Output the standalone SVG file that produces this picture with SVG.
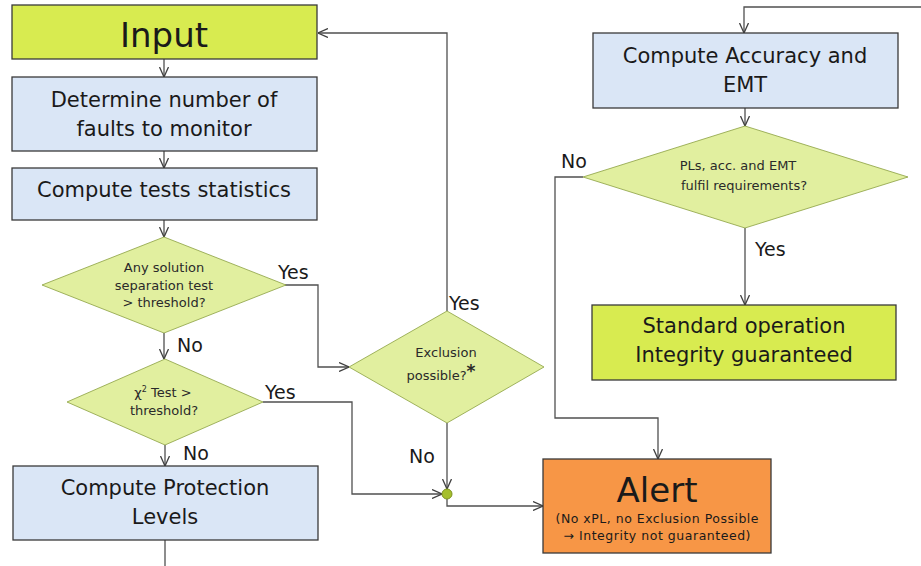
<svg xmlns="http://www.w3.org/2000/svg" width="921" height="566" viewBox="0 0 921 566">
<defs>
<marker id="arr" viewBox="0 0 10 10" refX="10" refY="5" markerWidth="10" markerHeight="10" markerUnits="userSpaceOnUse" orient="auto">
<polyline points="0,0.5 10,5 0,9.5" fill="none" stroke="#404040" stroke-width="1.3"/>
</marker>
<style>
.box{stroke:#3a3a3a;stroke-width:1.3}
.blue{fill:#dae6f6}
.yel{fill:#d8eb50}
.dia{fill:#e1ef9f;stroke:#8aa040;stroke-width:0.8}
.org{fill:#f79646}
.t{font-family:"DejaVu Sans",Verdana,sans-serif;fill:#1a1a1a;text-anchor:middle}
.big{font-size:21px}
.sm{font-size:13px;fill:#2a2a2a}
.lbl{font-family:"DejaVu Sans",Verdana,sans-serif;font-size:19px;fill:#1a1a1a}
.c{fill:none;stroke:#505050;stroke-width:1.3}
</style>
</defs>
<rect width="921" height="566" fill="#ffffff"/>

<g id="connectors">
<line class="c" x1="164" y1="59" x2="164" y2="77" marker-end="url(#arr)"/>
<line class="c" x1="164" y1="151" x2="164" y2="168" marker-end="url(#arr)"/>
<line class="c" x1="164" y1="220" x2="164" y2="237" marker-end="url(#arr)"/>
<line class="c" x1="164" y1="333" x2="164" y2="359" marker-end="url(#arr)"/>
<line class="c" x1="165" y1="445" x2="165" y2="466" marker-end="url(#arr)"/>
<line class="c" x1="165" y1="540" x2="165" y2="566"/>
<polyline class="c" points="285,285 318,285 318,367 349,367" marker-end="url(#arr)"/>
<polyline class="c" points="263,402 352,402 352,494 442,494" marker-end="url(#arr)"/>
<polyline class="c" points="447,311 447,33 318,33" marker-end="url(#arr)"/>
<line class="c" x1="447" y1="423" x2="447" y2="489" marker-end="url(#arr)"/>
<polyline class="c" points="447,499 447,506 543,506" marker-end="url(#arr)"/>
<polyline class="c" points="921,7 744,7 744,33" marker-end="url(#arr)"/>
<line class="c" x1="745" y1="108" x2="745" y2="126" marker-end="url(#arr)"/>
<line class="c" x1="745" y1="228" x2="745" y2="305" marker-end="url(#arr)"/>
<polyline class="c" points="583,177 555,177 555,418 658,418 658,459" marker-end="url(#arr)"/>
<circle cx="447" cy="494" r="5" fill="#a5bf2c" stroke="#7d9320" stroke-width="1"/>
<text class="lbl" x="278" y="279">Yes</text>
<text class="lbl" x="177" y="352">No</text>
<text class="lbl" x="265" y="399">Yes</text>
<text class="lbl" x="183" y="460">No</text>
<text class="lbl" x="449" y="310">Yes</text>
<text class="lbl" x="409" y="463">No</text>
<text class="lbl" x="561" y="168">No</text>
<text class="lbl" x="755" y="256">Yes</text>
</g>

<g id="input">
<rect class="box yel" x="12" y="5" width="305" height="54"/>
<text class="t" x="164" y="47" font-size="34">Input</text>
</g>
<g id="determine">
<rect class="box blue" x="12" y="77" width="305" height="74"/>
<text class="t big" x="164" y="107">Determine number of</text>
<text class="t big" x="164" y="136">faults to monitor</text>
</g>
<g id="tests">
<rect class="box blue" x="12" y="168" width="305" height="52"/>
<text class="t big" x="164" y="197">Compute tests statistics</text>
</g>
<g id="solsep">
<polygon class="dia" points="164,237 286,285 164,333 42,285"/>
<text class="t sm" x="164" y="272">Any solution</text>
<text class="t sm" x="164" y="290">separation test</text>
<text class="t sm" x="164" y="307">&gt; threshold?</text>
</g>
<g id="chi2">
<polygon class="dia" points="165,359 263,402 165,445 67,402"/>
<text class="t sm" x="163" y="397">χ<tspan font-size="8" dy="-5">2</tspan><tspan dy="5"> Test &gt;</tspan></text>
<text class="t sm" x="164" y="415">threshold?</text>
</g>
<g id="pl">
<rect class="box blue" x="13" y="466" width="305" height="74"/>
<text class="t big" x="165" y="495">Compute Protection</text>
<text class="t big" x="165" y="524">Levels</text>
</g>
<g id="exclusion">
<polygon class="dia" points="447,311 544,367 447,423 349,367"/>
<text class="t sm" x="446" y="357">Exclusion</text>
<text class="t sm" x="441" y="380">possible?<tspan font-size="17" font-weight="bold" dy="-3">*</tspan></text>
</g>
<g id="accuracy">
<rect class="box blue" x="593" y="33" width="305" height="75"/>
<text class="t big" x="745" y="63">Compute Accuracy and</text>
<text class="t big" x="745" y="92">EMT</text>
</g>
<g id="requirements">
<polygon class="dia" points="745,126 908,177 745,228 583,177"/>
<text class="t sm" x="738" y="170">PLs, acc. and EMT</text>
<text class="t sm" x="744" y="190">fulfil requirements?</text>
</g>
<g id="standard">
<rect class="box yel" x="592" y="305" width="304" height="75"/>
<text class="t big" x="744" y="333">Standard operation</text>
<text class="t big" x="744" y="362">Integrity guaranteed</text>
</g>
<g id="alert">
<rect class="box org" x="543" y="459" width="228" height="94"/>
<text class="t" x="657" y="502" font-size="34">Alert</text>
<text class="t" x="657" y="523" font-size="12.5" textLength="203" lengthAdjust="spacing">(No xPL, no Exclusion Possible</text>
<text class="t" x="657" y="540" font-size="12.5" textLength="187" lengthAdjust="spacing">→ Integrity not guaranteed)</text>
</g>
</svg>
